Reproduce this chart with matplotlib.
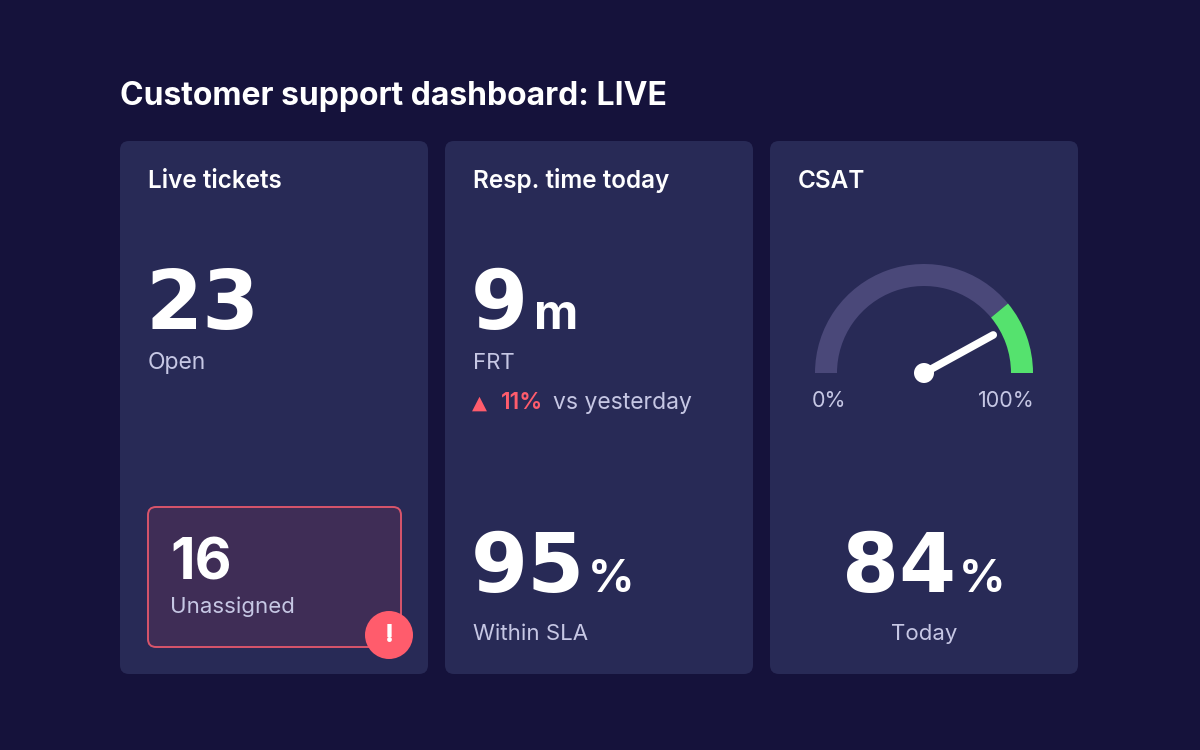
import matplotlib
matplotlib.use("Agg")
import matplotlib.pyplot as plt
from matplotlib.patches import FancyBboxPatch, Wedge, Circle
import numpy as np

# ---- data ----
title = "Customer support dashboard: LIVE"
card_titles = ["Live tickets", "Resp. time today", "CSAT"]
open_tickets = 23
unassigned = 16
frt_minutes = 9
frt_change_pct = 11
within_sla_pct = 95
csat_pct = 84
csat_green_from = 78          # start of the green zone on the gauge
gauge_labels = ["0%", "100%"]

BG = "#15123b"
CARD = "#282a56"
LIGHT = "#c6c7e4"
WHITE = "#ffffff"
RED = "#ff5c6c"
ARC = "#4a4879"
GREEN = "#55e26e"

plt.rcParams['font.family'] = ['Inter', 'DejaVu Sans']
NUMFONT = ['DejaVu Sans']

fig = plt.figure(figsize=(12, 7.5), dpi=100, facecolor=BG)
ax = fig.add_axes([0, 0, 1, 1])
ax.set_xlim(0, 1200)
ax.set_ylim(750, 0)
ax.axis("off")
ax.set_facecolor(BG)
renderer = fig.canvas.get_renderer()


def width_of(t):
    return t.get_window_extent(renderer).width


def big_number(x, y, num, unit, size=59, unit_size=33, gap=3, center=False):
    t1 = ax.text(x, y, str(num), color=WHITE, fontsize=size, fontweight="bold",
                 va="baseline", ha="left", family=NUMFONT)
    t2 = ax.text(x, y, unit, color=WHITE, fontsize=unit_size, fontweight="bold",
                 va="baseline", ha="left")
    w1, w2 = width_of(t1), width_of(t2)
    x0 = x - (w1 + gap + w2) / 2 if center else x
    t1.set_x(x0)
    t2.set_x(x0 + w1 + gap)


ax.text(120, 105, title, color=WHITE, fontsize=23, fontweight="bold", va="baseline")

card_x = [120, 445, 770]
card_w, card_top, card_h = 308, 141, 533
for cx, name in zip(card_x, card_titles):
    ax.add_patch(FancyBboxPatch((cx, card_top), card_w, card_h,
                                boxstyle="round,pad=0,rounding_size=9",
                                fc=CARD, ec="none"))
    ax.text(cx + 28, 188, name, color=WHITE, fontsize=17.5, fontweight="semibold",
            va="baseline")

# card 1: live tickets
ax.text(146, 329, str(open_tickets), color=WHITE, fontsize=59, fontweight="bold",
        va="baseline", family=NUMFONT)
ax.text(148, 369, "Open", color=LIGHT, fontsize=16.5, va="baseline")

ax.add_patch(FancyBboxPatch((148, 507), 253, 140,
                            boxstyle="round,pad=0,rounding_size=8",
                            fc="#3f2d56", ec="#d9556b", lw=1.4))
ax.text(170, 579, str(unassigned), color=WHITE, fontsize=41, fontweight="bold",
        va="baseline")
ax.text(170, 613, "Unassigned", color=LIGHT, fontsize=16, va="baseline")
ax.add_patch(Circle((389, 635), 24, fc=RED, ec="none", zorder=5))
ax.text(389, 636, "!", color=WHITE, fontsize=18, fontweight="heavy",
        ha="center", va="center", zorder=6)

# card 2: response time
big_number(471, 329, frt_minutes, "m", unit_size=35, gap=6)
ax.text(473, 369, "FRT", color=LIGHT, fontsize=16, va="baseline")
ax.text(472, 409, "\u25B2", color=RED, fontsize=14, va="baseline",
        family=['DejaVu Sans'])
t = ax.text(501, 409, f"{frt_change_pct}%", color=RED, fontsize=16.5,
            fontweight="semibold", va="baseline")
ax.text(501 + width_of(t) + 10, 409, "vs yesterday", color=LIGHT, fontsize=16.5,
        va="baseline")

big_number(471, 592, within_sla_pct, "%")
ax.text(473, 640, "Within SLA", color=LIGHT, fontsize=16, va="baseline")

# card 3: CSAT gauge
gx, gy, r_out, r_in = 924, 373, 109, 87
a_green = 180 * (1 - csat_green_from / 100)
ax.add_patch(Wedge((gx, gy), r_out, -180, -a_green, width=r_out - r_in,
                   fc=ARC, ec="none"))
ax.add_patch(Wedge((gx, gy), r_out, -a_green, 0, width=r_out - r_in,
                   fc=GREEN, ec="none"))
a_val = np.deg2rad(180 * (1 - csat_pct / 100))
needle = 79
ax.plot([gx, gx + needle * np.cos(a_val)], [gy, gy - needle * np.sin(a_val)],
        color=WHITE, lw=5.5, solid_capstyle="round", zorder=4)
ax.add_patch(Circle((gx, gy), 10, fc=WHITE, ec="none", zorder=5))
ax.text(gx - r_out - 3, 407, gauge_labels[0], color=LIGHT, fontsize=15.5,
        ha="left", va="baseline")
ax.text(gx + r_out + 2, 407, gauge_labels[1], color=LIGHT, fontsize=15.5,
        ha="right", va="baseline")

big_number(gx, 592, csat_pct, "%", center=True)
ax.text(gx, 640, "Today", color=LIGHT, fontsize=16, ha="center", va="baseline")

fig.savefig("out.png", dpi=100, facecolor=BG)
